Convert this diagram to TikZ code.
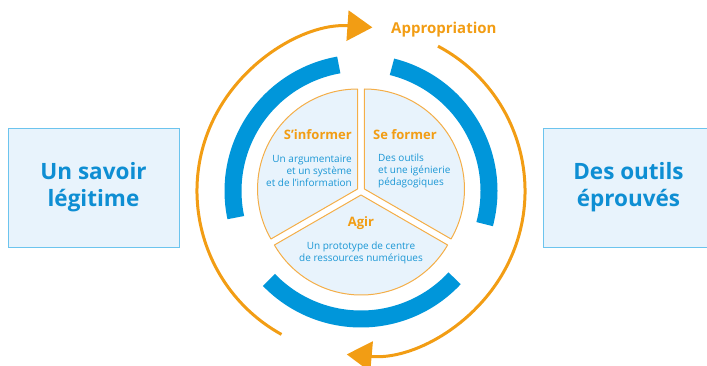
\documentclass[tikz,border=0pt]{standalone}
\usepackage{fontspec}
\setmainfont{Open Sans}
\usetikzlibrary{calc,arrows.meta}
\definecolor{orng}{HTML}{F29D14}
\definecolor{sectorline}{HTML}{F4AE48}
\definecolor{bluearc}{HTML}{0096DA}
\definecolor{bluetxt}{HTML}{1B97D5}
\definecolor{boxtxt}{HTML}{0E8ED3}
\definecolor{boxline}{HTML}{6CC4EE}
\definecolor{lightfill}{HTML}{E8F3FC}
\tikzset{
  sidebox/.style={draw=boxline, line width=1pt, fill=lightfill, minimum width=171pt, minimum height=119pt,
    align=center, text=boxtxt, font=\fontsize{22.5}{27}\selectfont\bfseries, inner sep=0pt},
  sector/.style={draw=sectorline, line width=1pt, fill=lightfill, line join=round},
  thickarc/.style={draw=bluearc, line width=17pt},
  cyclearc/.style={draw=orng, line width=3pt, -{Triangle[length=25pt,width=30pt]}},
  title/.style={text=orng, font=\fontsize{13}{14}\selectfont\bfseries, inner sep=0pt},
  bigtitle/.style={text=orng, font=\fontsize{15}{16}\selectfont\bfseries, inner sep=0pt},
  body/.style={text=bluetxt, font=\fontsize{10}{12}\selectfont, inner sep=0pt}
}
\begin{document}
\begin{tikzpicture}[x=1pt,y=1pt]
\useasboundingbox (0,0) rectangle (707,365);
\coordinate (C) at (361,174);
% side boxes
\node[sidebox] (savoir) at (93.5,177.5) {Un savoir\\légitime};
\node[sidebox] (outils) at (628.5,177.5) {Des outils\\éprouvés};
% sectors
\coordinate (L) at ($(C)+(150:4)$);
\coordinate (R) at ($(C)+(30:4)$);
\coordinate (B) at ($(C)+(270:4)$);
\path[sector] (L) -- ($(L)+(90:100)$) arc[start angle=90,end angle=210,radius=100] -- cycle;
\path[sector] (R) -- ($(R)+(-30:100)$) arc[start angle=-30,end angle=90,radius=100] -- cycle;
\path[sector] (B) -- ($(B)+(210:100)$) arc[start angle=210,end angle=330,radius=100] -- cycle;
% blue arcs
\path[thickarc] ($(C)+(100:128)$) arc[start angle=100,end angle=192,radius=128];
\path[thickarc] ($(C)+(-15:128)$) arc[start angle=-15,end angle=76,radius=128];
\path[thickarc] ($(C)+(224:128)$) arc[start angle=224,end angle=317,radius=128];
% orange cycle arcs
\path[cyclearc] ($(C)+(241:164)$) arc[start angle=241,end angle=86,radius=164];
\path[cyclearc] ($(C)+(62:164)$) arc[start angle=62,end angle=-95,radius=164];
\node[bigtitle, anchor=west] (approp) at (391,335) {Appropriation};
% texts
\node[title, anchor=east] (sinf) at (352,230) {S'informer};
\node[body, anchor=east, align=right] (sinfb) at (352,194) {Un argumentaire\\et un système\\et de l'information};
\node[title, anchor=west] (sefo) at (373,230) {Se former};
\node[body, anchor=west, align=left] (sefob) at (378,194) {Des outils\\et une igénierie\\pédagogiques};
\node[title] (agir) at (361,142) {Agir};
\node[body, align=center] (agirb) at (361,112.5) {Un prototype de centre\\de ressources numériques};
\end{tikzpicture}
\end{document}
